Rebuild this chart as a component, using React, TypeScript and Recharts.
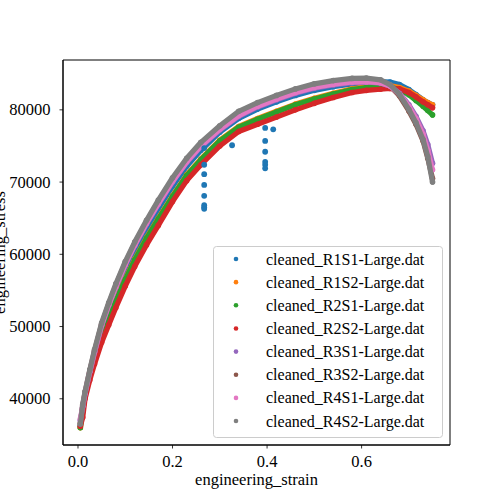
import React from 'react';
import { ScatterChart, Scatter, XAxis, YAxis, Legend, ReferenceArea, Label } from 'recharts';

const FONT = '"Liberation Serif", "Times New Roman", serif';

const SERIES_NAMES = [
  'cleaned_R1S1-Large.dat',
  'cleaned_R1S2-Large.dat',
  'cleaned_R2S1-Large.dat',
  'cleaned_R2S2-Large.dat',
  'cleaned_R3S1-Large.dat',
  'cleaned_R3S2-Large.dat',
  'cleaned_R4S1-Large.dat',
  'cleaned_R4S2-Large.dat',
];
const COLORS = ['#1f77b4', '#ff7f0e', '#2ca02c', '#d62728', '#9467bd', '#8c564b', '#e377c2', '#7f7f7f'];

const STRAIN = [0.005, 0.01, 0.015, 0.025, 0.035, 0.05, 0.065, 0.08, 0.1, 0.12, 0.145, 0.17, 0.2, 0.23, 0.26, 0.3, 0.34, 0.38, 0.42, 0.46, 0.5, 0.54, 0.58, 0.61, 0.64, 0.66, 0.68, 0.7, 0.715, 0.73, 0.74, 0.75];

const R1S1 = [36300, 38800, 40600, 43500, 46100, 49500, 52300, 54800, 57800, 60500, 63500, 66300, 69400, 72200, 74400, 76900, 78800, 80100, 81100, 82000, 82700, 83200, 83600, 83800, 83900, 83850, 83500, 82800, 82100, 81400, 81000, 80700];
const R1S2 = [36000, 38200, 40500, 43300, 45600, 48700, 51200, 53600, 56600, 59300, 62300, 65000, 68100, 71000, 73200, 75800, 77700, 78800, 79800, 80800, 81600, 82300, 82900, 83200, 83400, 83350, 83100, 82600, 82000, 81400, 81000, 80700];
const R2S1 = [36000, 38300, 40400, 43200, 45500, 48600, 51100, 53500, 56500, 59200, 62200, 64900, 68000, 70900, 73100, 75700, 77600, 78700, 79700, 80700, 81500, 82200, 82800, 83100, 83250, 83200, 82800, 82100, 81300, 80500, 79900, 79300];
const R2S2 = [36200, 37400, 40000, 42600, 44800, 47800, 50200, 52600, 55600, 58300, 61300, 64000, 67300, 70200, 72400, 75000, 77000, 78000, 79000, 80000, 80900, 81700, 82400, 82700, 82850, 82950, 82900, 82400, 81800, 81100, 80700, 80300];
const R3S1 = [37000, 38900, 40700, 43700, 46400, 50100, 52900, 55400, 58500, 61200, 64200, 66900, 70000, 72700, 74900, 77200, 79100, 80400, 81400, 82300, 83000, 83450, 83750, 83850, 83700, 83300, 82300, 80700, 79100, 77100, 75200, 72600];
const R3S2 = [36600, 39100, 40900, 43900, 46600, 50300, 53100, 55700, 58800, 61500, 64500, 67300, 70400, 73100, 75300, 77600, 79600, 80800, 81800, 82700, 83400, 83850, 84150, 84200, 83950, 83300, 81950, 79850, 78000, 75700, 73300, 70500];
const R4S1 = [37200, 39000, 40800, 43800, 46500, 50200, 53000, 55500, 58600, 61300, 64300, 67000, 70100, 72800, 75000, 77300, 79200, 80500, 81500, 82400, 83100, 83550, 83850, 83900, 83750, 83300, 82200, 80500, 78800, 76600, 74400, 71700];
const R4S2 = [36500, 39200, 41000, 44000, 46800, 50500, 53300, 55900, 59000, 61700, 64700, 67500, 70600, 73300, 75500, 77800, 79800, 81000, 82000, 82900, 83600, 84050, 84350, 84400, 84150, 83500, 82150, 80050, 78200, 75900, 73500, 70000];

const STRESS = [R1S1, R1S2, R2S1, R2S2, R3S1, R3S2, R4S1, R4S2];

// isolated drop-out points of R1S1
const R1S1_OUT_STRAIN = [0.267, 0.267, 0.267, 0.267, 0.267, 0.267, 0.267, 0.267, 0.326, 0.396, 0.396, 0.396, 0.396, 0.396, 0.396, 0.413];
const R1S1_OUT_STRESS = [74700, 72400, 71100, 69600, 68100, 66800, 66500, 66300, 75100, 77500, 75700, 74200, 72800, 72400, 71900, 77300];

const X_TICKS = [0, 0.2, 0.4, 0.6];
const Y_TICKS = [40000, 50000, 60000, 70000, 80000];
const X_DOMAIN: [number, number] = [-0.0317, 0.787];
const Y_DOMAIN: [number, number] = [33600, 86900];

const seriesData = STRESS.map((arr) => STRAIN.map((x, i) => ({ x, y: arr[i] })));
const outData = R1S1_OUT_STRAIN.map((x, i) => ({ x, y: R1S1_OUT_STRESS[i] }));

const XTick = (props: any) => {
  const { x, y, payload } = props;
  return (
    <text x={x} y={y + 16} textAnchor="middle" fontFamily={FONT} fontSize={16.5} fill="#000">
      {Number(payload.value).toFixed(1)}
    </text>
  );
};

const YTick = (props: any) => {
  const { x, y, payload } = props;
  return (
    <text x={x - 7} y={y + 5.5} textAnchor="end" fontFamily={FONT} fontSize={16.5} fill="#000">
      {String(payload.value)}
    </text>
  );
};

const LegendBox = () => (
  <svg width={230} height={192} style={{ display: 'block' }}>
    <rect x={0.5} y={0.5} width={229} height={191} rx={3} ry={3} fill="rgba(255,255,255,0.8)" stroke="#cccccc" strokeWidth={1} />
    {SERIES_NAMES.map((name, i) => {
      const cy = 13 + i * 23.15;
      return (
        <g key={name}>
          <circle cx={23} cy={cy} r={2.3} fill={COLORS[i]} />
          <text x={53} y={cy + 5.5} fontFamily={FONT} fontSize={16} fill="#000">
            {name}
          </text>
        </g>
      );
    })}
  </svg>
);

export default function App() {
  return (
    <div style={{ position: 'absolute', left: 0, top: 0, width: 500, height: 500, background: '#fff' }}>
      <ScatterChart width={500} height={500} margin={{ top: 60, right: 50, bottom: 0, left: 0 }}>
        <XAxis
          type="number"
          dataKey="x"
          domain={X_DOMAIN}
          allowDataOverflow
          ticks={X_TICKS}
          height={55}
          tickSize={3.5}
          tickMargin={2}
          tick={<XTick />}
          axisLine={{ stroke: '#000', strokeWidth: 1 }}
          tickLine={{ stroke: '#000', strokeWidth: 0.8 }}
        >
          <Label
            content={() => (
              <text x={256.5} y={485} textAnchor="middle" fontFamily={FONT} fontSize={16.5} fill="#000">
                engineering_strain
              </text>
            )}
          />
        </XAxis>
        <YAxis
          type="number"
          dataKey="y"
          domain={Y_DOMAIN}
          allowDataOverflow
          ticks={Y_TICKS}
          width={63}
          tickSize={3.5}
          tickMargin={2}
          tick={<YTick />}
          axisLine={{ stroke: '#000', strokeWidth: 1 }}
          tickLine={{ stroke: '#000', strokeWidth: 0.8 }}
        >
          <Label
            content={() => (
              <text transform="translate(5,252.5) rotate(-90)" textAnchor="middle" fontFamily={FONT} fontSize={16.5} fill="#000">
                engineering_stress
              </text>
            )}
          />
        </YAxis>
        <ReferenceArea x1={X_DOMAIN[0]} x2={X_DOMAIN[1]} y1={Y_DOMAIN[0]} y2={Y_DOMAIN[1]} fill="none" fillOpacity={0} stroke="#000" strokeWidth={1} ifOverflow="visible" />
        {seriesData.map((data, i) => (
          <Scatter
            key={SERIES_NAMES[i]}
            name={SERIES_NAMES[i]}
            data={data}
            fill={COLORS[i]}
            isAnimationActive={false}
            line={{ stroke: COLORS[i], strokeWidth: 5.2, strokeLinecap: 'round', strokeLinejoin: 'round' }}
            lineType="joint"
            shape={(p: any) => <circle cx={p.cx} cy={p.cy} r={2.8} fill={COLORS[i]} />}
          />
        ))}
        <Scatter
          name="R1S1 drop-outs"
          data={outData}
          fill={COLORS[0]}
          legendType="none"
          isAnimationActive={false}
          shape={(p: any) => <circle cx={p.cx} cy={p.cy} r={2.9} fill={COLORS[0]} />}
        />
        <Legend
          layout="vertical"
          align="center"
          verticalAlign="middle"
          wrapperStyle={{ left: 213, top: 246, width: 230, height: 192 }}
          content={() => <LegendBox />}
        />
      </ScatterChart>
    </div>
  );
}
